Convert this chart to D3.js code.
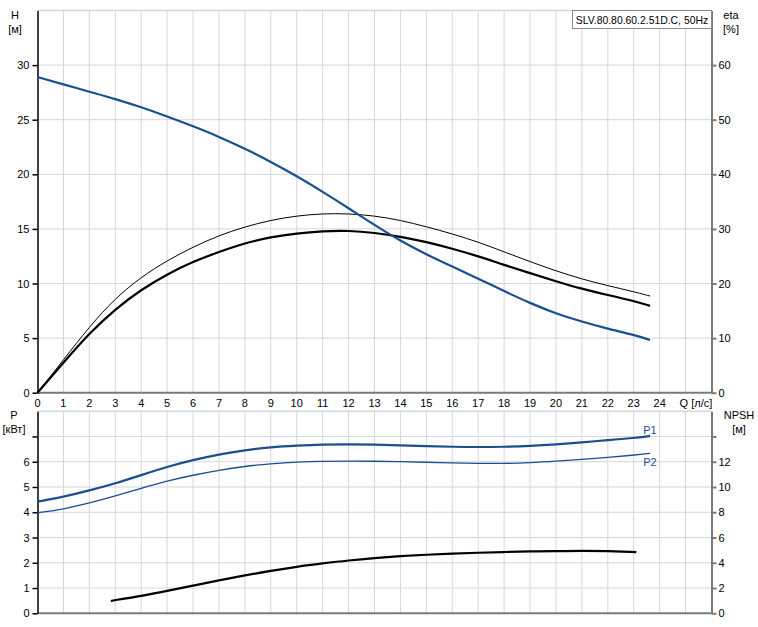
<html>
<head>
<script src="https://d3js.org/d3.v7.min.js"></script>
<style>
  body { margin: 0; background: #fff; }
  text { font-family: "Liberation Sans", Arial, sans-serif; font-size: 11px; fill: #000; }
</style>
</head>
<body>
<svg width="758" height="627"></svg>
<script>
// Q [l/s] ticks and curve data
const Q_TICKS = d3.range(0, 25);
const H_TICKS = [0, 5, 10, 15, 20, 25, 30];
const ETA_TICKS = [0, 10, 20, 30, 40, 50, 60];
const P_TICKS = [0, 1, 2, 3, 4, 5, 6, 7];
const NPSH_TICKS = [0, 2, 4, 6, 8, 10, 12, 14];

const Q_MAIN = [0, 1, 2, 3, 4, 5, 6, 7, 8, 9, 10, 11, 12, 13, 14, 15, 16, 17, 18, 19, 20, 21, 22, 23, 23.63];
const H = [28.9, 28.24, 27.56, 26.9, 26.15, 25.3, 24.4, 23.45, 22.35, 21.15, 19.84, 18.4, 16.9, 15.35, 13.9, 12.65, 11.55, 10.45, 9.3, 8.2, 7.25, 6.5, 5.85, 5.3, 4.83];
const ETA1 = [0, 6.0, 12.1, 17.3, 21.2, 24.2, 26.7, 28.8, 30.4, 31.6, 32.4, 32.8, 32.8, 32.4, 31.6, 30.4, 29.1, 27.6, 25.8, 24.0, 22.3, 20.8, 19.6, 18.5, 17.7];
const ETA2 = [0, 5.5, 10.9, 15.3, 18.9, 21.7, 24.0, 25.8, 27.4, 28.5, 29.2, 29.6, 29.7, 29.3, 28.6, 27.6, 26.4, 25.0, 23.4, 21.9, 20.4, 19.0, 17.9, 16.8, 15.9];
const P1 = [4.42, 4.61, 4.86, 5.14, 5.47, 5.8, 6.07, 6.29, 6.46, 6.58, 6.64, 6.68, 6.69, 6.68, 6.65, 6.62, 6.59, 6.58, 6.59, 6.62, 6.68, 6.77, 6.85, 6.94, 7.02];
const P2 = [3.98, 4.12, 4.36, 4.64, 4.95, 5.24, 5.47, 5.67, 5.82, 5.92, 5.99, 6.02, 6.03, 6.02, 6.0, 5.98, 5.95, 5.93, 5.93, 5.96, 6.02, 6.09, 6.17, 6.26, 6.33];
const Q_NPSH = [2.83, 3, 4, 5, 6, 7, 8, 9, 10, 11, 12, 13, 14, 15, 16, 17, 18, 19, 20, 21, 22, 23, 23.1];
const NPSH = [0.97, 1.05, 1.37, 1.77, 2.19, 2.61, 3.0, 3.37, 3.69, 3.95, 4.19, 4.38, 4.53, 4.64, 4.72, 4.8, 4.85, 4.9, 4.93, 4.96, 4.93, 4.85, 4.84];

const BLUE = '#1a4f8e';
const GRID = '#d4d7da';
const AXIS_GRAY = '#7a7a7a';

const svg = d3.select('svg');
const L = 37.5, R = 711.5;
const x = d3.scaleLinear().domain([0, 26]).range([L, R]);

// top panel
const yH = d3.scaleLinear().domain([0, 35]).range([392.7, 10.5]);
const yEta = d3.scaleLinear().domain([0, 70]).range([392.7, 10.5]);
// bottom panel
const yP = d3.scaleLinear().domain([0, 8]).range([613.3, 411.2]);
const yN = d3.scaleLinear().domain([0, 16]).range([613.3, 411.2]);

function grid(yScale, hvals, top, bottom) {
  const g = svg.append('g');
  g.selectAll('.v').data(d3.range(1, 26)).enter().append('line')
    .attr('x1', d => x(d)).attr('x2', d => x(d))
    .attr('y1', top).attr('y2', bottom)
    .attr('stroke', GRID).attr('stroke-width', 1);
  g.selectAll('.h').data(hvals).enter().append('line')
    .attr('x1', L).attr('x2', R)
    .attr('y1', d => yScale(d)).attr('y2', d => yScale(d))
    .attr('stroke', GRID).attr('stroke-width', 1);
  // top border
  g.append('line').attr('x1', L).attr('x2', R).attr('y1', top).attr('y2', top)
    .attr('stroke', GRID).attr('stroke-width', 1.5);
}

grid(yH, [5, 10, 15, 20, 25, 30], 10.5, 392.7);
grid(yP, [1, 2, 3, 4, 5, 6, 7], 411.2, 613.3);

function leftAxis(scale, ticks, labelled) {
  const ax = svg.append('g').attr('transform', `translate(${L},0)`)
    .call(d3.axisLeft(scale).tickValues(ticks).tickSize(5).tickSizeOuter(0)
      .tickFormat(d => labelled.includes(d) ? d : ''));
  ax.selectAll('path, line').attr('stroke', '#000').attr('stroke-width', 1.5);
  ax.selectAll('text').attr('x', -8).style('font-size', '11px').attr('fill', '#000');
}
function rightAxis(scale, ticks, labelled) {
  const ax = svg.append('g').attr('transform', `translate(${R},0)`)
    .call(d3.axisRight(scale).tickValues(ticks).tickSize(5).tickSizeOuter(0)
      .tickFormat(d => labelled.includes(d) ? d : ''));
  ax.selectAll('path, line').attr('stroke', AXIS_GRAY).attr('stroke-width', 2);
  ax.selectAll('text').attr('x', 7).style('font-size', '11px').attr('fill', '#000');
}

// bottom gray lines of each panel
svg.append('line').attr('x1', L).attr('x2', R).attr('y1', 392.7).attr('y2', 392.7)
  .attr('stroke', AXIS_GRAY).attr('stroke-width', 2);
svg.append('line').attr('x1', L).attr('x2', R).attr('y1', 613.3).attr('y2', 613.3)
  .attr('stroke', AXIS_GRAY).attr('stroke-width', 2);

rightAxis(yEta, ETA_TICKS, ETA_TICKS);
rightAxis(yN, NPSH_TICKS, [0, 2, 4, 6, 8, 10, 12]);
leftAxis(yH, H_TICKS, H_TICKS);
leftAxis(yP, P_TICKS, [0, 1, 2, 3, 4, 5, 6]);

// x tick labels
svg.append('g').selectAll('text').data(Q_TICKS).enter().append('text')
  .attr('x', d => x(d)).attr('y', 407).attr('text-anchor', 'middle')
  .text(d => d);
svg.append('text').attr('x', x(25.4)).attr('y', 407).attr('text-anchor', 'middle').text('Q [л/с]');

// axis titles
svg.append('text').attr('x', 15).attr('y', 19).attr('text-anchor', 'middle').text('H');
svg.append('text').attr('x', 15).attr('y', 33).attr('text-anchor', 'middle').text('[м]');
svg.append('text').attr('x', 731).attr('y', 19).attr('text-anchor', 'middle').text('eta');
svg.append('text').attr('x', 731).attr('y', 33).attr('text-anchor', 'middle').text('[%]');
svg.append('text').attr('x', 14).attr('y', 419).attr('text-anchor', 'middle').text('P');
svg.append('text').attr('x', 14).attr('y', 433).attr('text-anchor', 'middle').text('[кВт]');
svg.append('text').attr('x', 739).attr('y', 419).attr('text-anchor', 'middle').text('NPSH');
svg.append('text').attr('x', 739).attr('y', 433).attr('text-anchor', 'middle').text('[м]');

// legend box
svg.append('rect').attr('x', 572.5).attr('y', 10.5).attr('width', 139).attr('height', 18)
  .attr('fill', '#fff').attr('stroke', '#8a8a8a').attr('stroke-width', 1);
svg.append('text').attr('x', 642).attr('y', 23.5).attr('text-anchor', 'middle')
  .style('font-size', '10.4px').text('SLV.80.80.60.2.51D.C, 50Hz');

function curve(qs, vals, yScale, color, width) {
  const line = d3.line().x((d, i) => x(qs[i])).y(d => yScale(d)).curve(d3.curveBasis);
  svg.append('path').datum(vals).attr('d', line)
    .attr('fill', 'none').attr('stroke', color).attr('stroke-width', width);
}

curve(Q_MAIN, ETA1, yEta, '#000', 1);
curve(Q_MAIN, ETA2, yEta, '#000', 2.2);
curve(Q_MAIN, H, yH, BLUE, 2.2);

curve(Q_MAIN, P2, yP, BLUE, 1.3);
curve(Q_MAIN, P1, yP, BLUE, 2.2);
curve(Q_NPSH, NPSH, yN, '#000', 2.2);

svg.append('text').attr('x', 650).attr('y', 434).attr('text-anchor', 'middle')
  .style('fill', BLUE).text('P1');
svg.append('text').attr('x', 650).attr('y', 466).attr('text-anchor', 'middle')
  .style('fill', BLUE).text('P2');
</script>
</body>
</html>
